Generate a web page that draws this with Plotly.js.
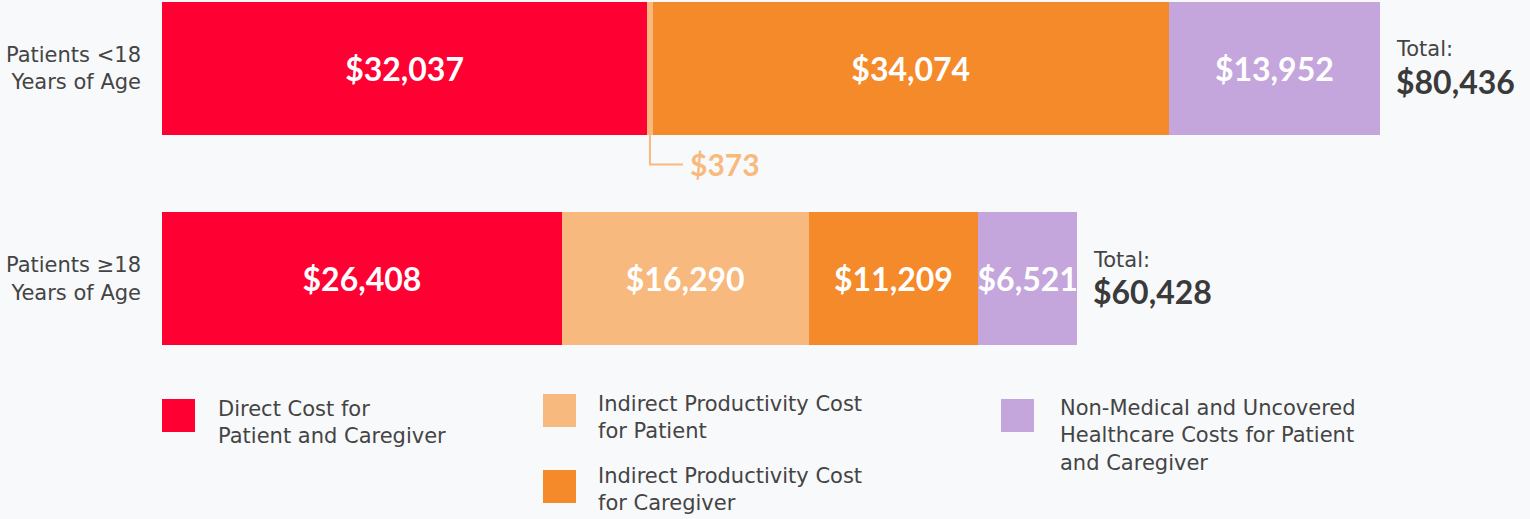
<!DOCTYPE html>
<html>
<head>
<meta charset="utf-8">
<script src="https://cdn.plot.ly/plotly-3.0.1.min.js"></script>
<style>
html,body{margin:0;padding:0;background:#f8f9fb;}
#chart{width:1530px;height:519px;}
</style>
</head>
<body>
<div id="chart"></div>
<script>
// ---- data ----
const categories = ['Patients &lt;18<br>Years of Age', 'Patients ≥18<br>Years of Age'];
const seriesNames = [
  'Direct Cost for<br>Patient and Caregiver',
  'Indirect Productivity Cost<br>for Patient',
  'Indirect Productivity Cost<br>for Caregiver',
  'Non-Medical and Uncovered<br>Healthcare Costs for Patient<br>and Caregiver'
];
const directCost = [32037, 26408];
const indirectPatient = [373, 16290];
const indirectCaregiver = [34074, 11209];
const nonMedical = [13952, 6521];
const seriesColors = ['#ff0033', '#f8b97e', '#f48a2a', '#c4a6dd'];

// ---- helpers ----
const W = 1530, H = 519, L = 162;
const fmt = v => '$' + v.toLocaleString('en-US');
const px = x => (x - L) / (W - L);
const py = y => 1 - y / H;
const series = [directCost, indirectPatient, indirectCaregiver, nonMedical];
const totals = categories.map((_, i) => series.reduce((s, arr) => s + arr[i], 0));
const NUMFONT = 'Lato, "Noto Sans", sans-serif';
const FONT = '"DejaVu Sans", "Open Sans", sans-serif';
const TXT = '#444444';

const traces = series.map((vals, k) => ({
  type: 'bar',
  orientation: 'h',
  name: seriesNames[k],
  y: categories,
  x: vals,
  marker: {color: seriesColors[k], line: {width: 0}},
  text: vals.map(v => (v / totals[0] < 0.02 ? '' : fmt(v))),
  textposition: 'inside',
  insidetextanchor: 'middle',
  textangle: 0,
  constraintext: 'none',
  textfont: {family: NUMFONT, size: 32, color: '#ffffff', weight: 700},
  hoverinfo: 'skip'
}));

// scale: top bar spans px 162 -> 1380
const xMax = totals[0] * (W - L) / (1380 - L);

const annotations = [];
const shapes = [];
totals.forEach((t, i) => {
  annotations.push({x: t, y: i, xref: 'x', yref: 'y', xanchor: 'left', yanchor: 'middle',
    xshift: 14, yshift: 19, text: 'Total:', showarrow: false, align: 'left',
    font: {family: FONT, size: 21, color: TXT}});
  annotations.push({x: t, y: i, xref: 'x', yref: 'y', xanchor: 'left', yanchor: 'middle',
    xshift: 14, yshift: -13, text: fmt(t), showarrow: false, align: 'left',
    font: {family: NUMFONT, size: 32, color: '#3a3a3a', weight: 700}});
});

// callout for the tiny segment
const calloutX = directCost[0] + indirectPatient[0] / 2;
shapes.push({type: 'path', xref: 'x', yref: 'y', xsizemode: 'pixel', ysizemode: 'pixel',
  xanchor: calloutX, yanchor: 0, path: 'M 0,-66 L 0,-96 L 33,-96',
  line: {color: seriesColors[1], width: 2}});
annotations.push({x: calloutX, y: 0, xref: 'x', yref: 'y', xanchor: 'left', yanchor: 'middle',
  xshift: 38, yshift: -96, text: fmt(indirectPatient[0]), showarrow: false,
  font: {family: NUMFONT, size: 30, color: seriesColors[1], weight: 700}});

// legend (manual layout)
const legendPos = [
  {sx: 162, sy: 399, tx: 216, ty: 395},
  {sx: 543, sy: 394, tx: 596, ty: 390},
  {sx: 543, sy: 470, tx: 596, ty: 462},
  {sx: 1001, sy: 399, tx: 1058, ty: 394}
];
legendPos.forEach((p, k) => {
  shapes.push({type: 'rect', xref: 'paper', yref: 'paper',
    x0: px(p.sx), x1: px(p.sx + 33), y0: py(p.sy), y1: py(p.sy + 33),
    fillcolor: seriesColors[k], line: {width: 0}});
  annotations.push({x: px(p.tx), y: py(p.ty), xref: 'paper', yref: 'paper',
    xanchor: 'left', yanchor: 'top', align: 'left', showarrow: false,
    text: seriesNames[k], font: {family: FONT, size: 21, color: TXT}});
});

const layout = {
  width: W, height: H,
  margin: {l: L, r: 0, t: 0, b: 0, pad: 0},
  paper_bgcolor: '#f8f9fb',
  plot_bgcolor: '#f8f9fb',
  barmode: 'stack',
  bargap: 0.367,
  showlegend: false,
  xaxis: {range: [0, xMax], visible: false, fixedrange: true},
  yaxis: {type: 'category', range: [2.145, -0.326], autorange: false,
    showgrid: false, zeroline: false, showline: false, ticks: '',
    ticklabelstandoff: 20,
    tickfont: {family: FONT, size: 21, color: TXT}},
  annotations: annotations,
  shapes: shapes,
  font: {family: FONT}
};

Plotly.newPlot('chart', traces, layout, {displayModeBar: false, staticPlot: true});
</script>
</body>
</html>
